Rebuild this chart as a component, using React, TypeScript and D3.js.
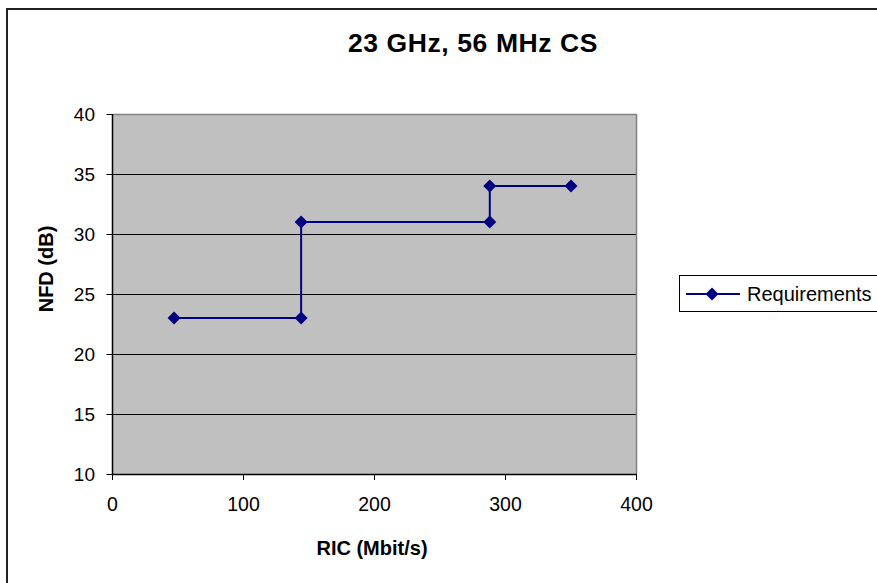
import React from "react";
import * as d3 from "d3";

// Requirement points: RIC (Mbit/s) against NFD (dB)
const ric = [47, 144, 144, 288, 288, 350];
const nfd = [23, 23, 31, 31, 34, 34];
const xTicks = [0, 100, 200, 300, 400];
const yTicks = [10, 15, 20, 25, 30, 35, 40];
const seriesName = "Requirements";
const title = "23 GHz, 56 MHz CS";
const xTitle = "RIC (Mbit/s)";
const yTitle = "NFD (dB)";

const W = 877;
const H = 583;
const FONT = "Arial, 'Liberation Sans', Helvetica, sans-serif";
const NAVY = "#000080";

export default function App() {
  const x = d3.scaleLinear().domain([0, 400]).range([112.5, 636.5]);
  const y = d3.scaleLinear().domain([10, 40]).range([474, 114]);
  const pts: [number, number][] = ric.map((r, i) => [r, nfd[i]]);
  const line = d3
    .line<[number, number]>()
    .x((d) => x(d[0]))
    .y((d) => y(d[1]));

  const diamond = (cx: number, cy: number, r = 6.5) =>
    `M${cx},${cy - r}L${cx + r},${cy}L${cx},${cy + r}L${cx - r},${cy}Z`;

  const left = x(0);
  const right = x(400);
  const top = y(40);
  const bottom = y(10);

  return (
    <svg
      width={W}
      height={H}
      style={{ position: "absolute", left: 0, top: 0, background: "#fff" }}
      fontFamily={FONT}
    >
      {/* chart frame */}
      <rect x={7} y={9} width={2000} height={2000} fill="#fff" stroke="#222" strokeWidth={2} />

      <text
        x={473}
        y={52}
        textAnchor="middle"
        fontSize={26.5}
        fontWeight="bold"
        letterSpacing={0.6}
        fill="#000"
      >
        {title}
      </text>

      {/* plot area */}
      <rect x={left} y={top} width={right - left} height={bottom - top} fill="#C0C0C0" />
      {yTicks
        .filter((t) => t > 10 && t < 40)
        .map((t) => (
          <line
            key={"g" + t}
            x1={left}
            x2={right}
            y1={y(t) + 0.5}
            y2={y(t) + 0.5}
            stroke="#000"
            strokeWidth={1}
          />
        ))}
      {/* plot border: top and right in grey */}
      <line x1={left} x2={right} y1={top + 0.5} y2={top + 0.5} stroke="#808080" strokeWidth={1.5} />
      <line x1={right} x2={right} y1={top} y2={bottom} stroke="#808080" strokeWidth={1.5} />

      {/* axes */}
      <line x1={left} x2={left} y1={top} y2={bottom + 1} stroke="#000" strokeWidth={1.5} />
      <line x1={left} x2={right} y1={bottom + 0.5} y2={bottom + 0.5} stroke="#000" strokeWidth={1.5} />
      {yTicks.map((t) => (
        <g key={"y" + t}>
          <line x1={left - 6} x2={left} y1={y(t) + 0.5} y2={y(t) + 0.5} stroke="#000" strokeWidth={1} />
          <text x={95} y={y(t) + 7} textAnchor="end" fontSize={19} fill="#000">
            {t}
          </text>
        </g>
      ))}
      {xTicks.map((t) => (
        <g key={"x" + t}>
          <line x1={x(t)} x2={x(t)} y1={bottom} y2={bottom + 6} stroke="#000" strokeWidth={1} />
          <text x={x(t)} y={511} textAnchor="middle" fontSize={19.5} fill="#000">
            {t}
          </text>
        </g>
      ))}

      <text x={372} y={555} textAnchor="middle" fontSize={20} fontWeight="bold" fill="#000">
        {xTitle}
      </text>
      <text
        transform={`translate(53,269) rotate(-90)`}
        textAnchor="middle"
        fontSize={20}
        fontWeight="bold"
        fill="#000"
      >
        {yTitle}
      </text>

      {/* series */}
      <path d={line(pts) ?? ""} fill="none" stroke={NAVY} strokeWidth={2} />
      {pts.map((p, i) => (
        <path key={"m" + i} d={diamond(x(p[0]), y(p[1]))} fill={NAVY} />
      ))}

      {/* legend */}
      <rect x={679.5} y={275.5} width={400} height={36} fill="#fff" stroke="#000" strokeWidth={1} />
      <line x1={686} x2={740} y1={294} y2={294} stroke={NAVY} strokeWidth={2} />
      <path d={diamond(712, 294)} fill={NAVY} />
      <text x={747} y={301} fontSize={20} fill="#000">
        {seriesName}
      </text>
    </svg>
  );
}
